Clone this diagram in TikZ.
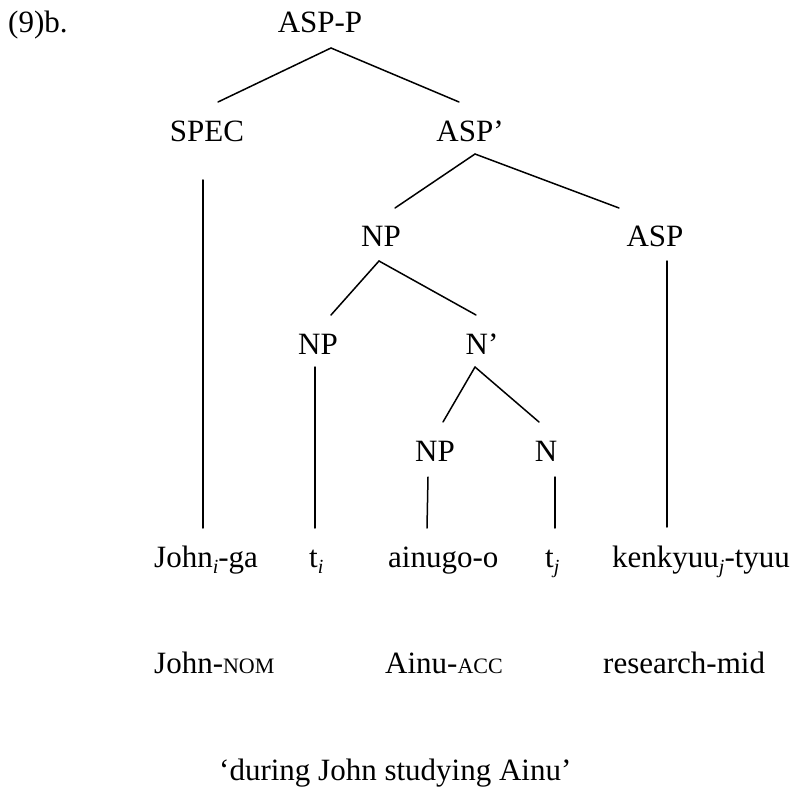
\documentclass[tikz,border=0pt]{standalone}
\usepackage{fontspec}
\setmainfont{Liberation Serif}
\usetikzlibrary{calc}
% italic index subscript and faked small capitals for the glosses
\newcommand\idx[1]{\raisebox{-0.2em}{\fontsize{20}{20}\selectfont\itshape #1}}
\newcommand\smc[1]{{\fontsize{22}{22}\selectfont #1}}
\begin{document}
\begin{tikzpicture}[x=1pt,y=-1pt,
  lbl/.style={inner sep=0pt,font=\fontsize{31}{37}\selectfont},
  branch/.style={line width=1.5pt,line cap=round}]
\useasboundingbox (0,0) rectangle (796,789);

% example number
\node[lbl,anchor=base west] (ex) at (8,33) {(9)b.};

% tree labels
\node[lbl,anchor=base] (aspp)   at (320,33)  {ASP-P};
\node[lbl,anchor=base] (spec)   at (207,142) {SPEC};
\node[lbl,anchor=base] (aspbar) at (470,142) {ASP’};
\node[lbl,anchor=base] (np1)    at (381,247) {NP};
\node[lbl,anchor=base] (asp)    at (655,247) {ASP};
\node[lbl,anchor=base] (np2)    at (318,354) {NP};
\node[lbl,anchor=base] (nbar)   at (482,354) {N’};
\node[lbl,anchor=base] (np3)    at (435,461) {NP};
\node[lbl,anchor=base] (n)      at (546,461) {N};

% terminal string
\node[lbl,anchor=base west] (john) at (154,567) {John\idx{i}-ga};
\node[lbl,anchor=base west] (ti)   at (309,567) {t\idx{i}};
\node[lbl,anchor=base west] (ainu) at (388,567) {ainugo-o};
\node[lbl,anchor=base west] (tj)   at (545,567) {t\idx{j}};
\node[lbl,anchor=base west] (ken)  at (612,567) {kenkyuu\idx{j}-tyuu};

% glosses
\node[lbl,anchor=base west] (g1) at (154,673) {John-\smc{NOM}};
\node[lbl,anchor=base west] (g2) at (385,673) {Ainu-\smc{ACC}};
\node[lbl,anchor=base west] (g3) at (603,673) {research-mid};

% free translation
\node[lbl,anchor=base west] (tr) at (219,780) {‘during John studying Ainu’};

% branches
\draw[branch] ($(aspp.base)+(11,15)$) -- ($(spec.base)+(11,-40)$);
\draw[branch] ($(aspp.base)+(11,15)$) -- ($(aspbar.base)+(-11,-40)$);
\draw[branch] ($(aspbar.base)+(5,12)$) -- ($(np1.base)+(14,-39)$);
\draw[branch] ($(aspbar.base)+(5,12)$) -- ($(asp.base)+(-36,-39)$);
\draw[branch] ($(np1.base)+(-2,14)$) -- ($(np2.base)+(13,-39)$);
\draw[branch] ($(np1.base)+(-2,14)$) -- ($(nbar.base)+(-6,-39)$);
\draw[branch] ($(nbar.base)+(-7,13)$) -- ($(np3.base)+(8,-39)$);
\draw[branch] ($(nbar.base)+(-7,13)$) -- ($(n.base)+(-7,-39)$);

% unary branches down to the terminals
\draw[branch] ($(spec.base)+(-4,38)$) -- ($(john.base west)+(49,-39)$);
\draw[branch] ($(np2.base)+(-3,13)$)  -- ($(ti.base west)+(6,-39)$);
\draw[branch] ($(np3.base)+(-7,16)$)  -- ($(ainu.base west)+(39,-39)$);
\draw[branch] ($(n.base)+(9,16)$)     -- ($(tj.base west)+(10,-39)$);
\draw[branch] ($(asp.base)+(12,14)$)  -- ($(ken.base west)+(55,-40)$);
\end{tikzpicture}
\end{document}
